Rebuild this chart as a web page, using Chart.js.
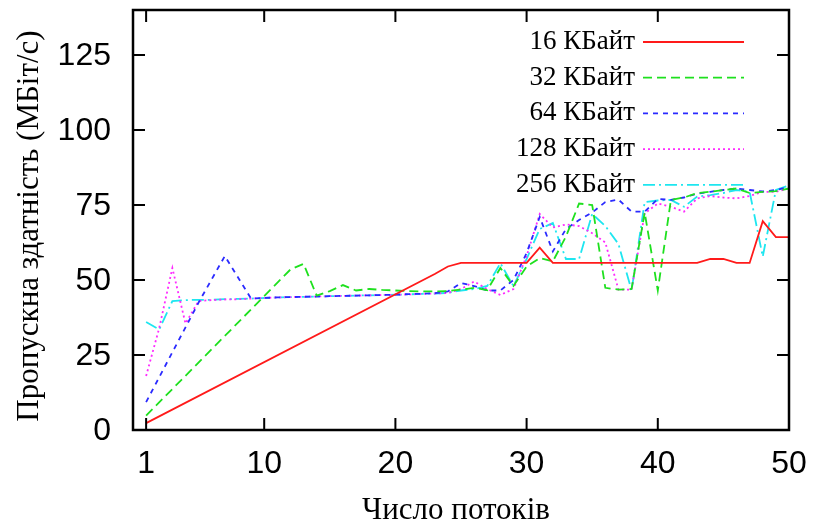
<!DOCTYPE html>
<html>
<head>
<meta charset="utf-8">
<script src="https://cdn.jsdelivr.net/npm/chart.js@4.4.1/dist/chart.umd.min.js"></script>
<style>
  html, body { margin: 0; padding: 0; background: #fff; }
  canvas { display: block; }
</style>
</head>
<body>
<canvas id="chart" width="814" height="528"></canvas>
<script>
// Throughput vs. number of threads, per buffer size.
// null = no measured point there (gnuplot just drew a straight segment across).
const threads = [
   1,  2,  3,  4,  5,  6,  7,  8,  9, 10,
  11, 12, 13, 14, 15, 16, 17, 18, 19, 20,
  21, 22, 23, 24, 25, 26, 27, 28, 29, 30,
  31, 32, 33, 34, 35, 36, 37, 38, 39, 40,
  41, 42, 43, 44, 45, 46, 47, 48, 49, 50,
];

const kb16 = [
  2.3, null, null, null, null, null, null, null, null, null,
  null, null, null, null, null, null, null, null, null, null,
  null, null, 52.0, 54.5, 55.7, 55.7, 55.7, 55.7, 55.7, 55.7,
  60.8, 55.7, 55.7, 55.7, 55.7, 55.7, 55.7, 55.7, 55.7, 55.7,
  55.7, 55.7, 55.7, 57.0, 57.0, 55.7, 55.7, 69.6, 64.3, 64.3,
];

const kb32 = [
  4.8, null, null, null, null, null, null, null, null, null,
  null, 53.5, 55.4, 44.8, 46.3, 48.3, 46.5, 47.0, 46.7, 46.5,
  46.3, 46.2, 46.2, 46.3, 46.8, 47.4, 46.6, 54.0, 48.0, 54.5,
  57.3, 56.2, 64.5, 75.5, 75.0, 47.4, 46.8, 47.0, 72.5, 46.5,
  76.7, 77.5, 79.0, 79.4, 80.0, 80.5, 79.0, 79.4, 79.6, 80.5,
];

const kb64 = [
  9.3, null, null, null, 42.5, null, 58.0, null, 43.8, 44.0,
  44.2, 44.3, 44.4, 44.5, 44.6, 44.7, 44.8, 44.9, 45.0, 45.1,
  45.3, 45.4, 45.6, 46.2, 49.0, 48.0, 46.5, 46.5, 50.0, 59.0,
  71.0, 59.5, 67.0, 70.0, 72.5, 76.0, 76.8, 72.8, 72.8, 77.0,
  76.7, 77.5, 78.8, 79.4, 80.0, 80.5, 80.0, 79.5, 80.0, 81.0,
];

const kb128 = [
  18.0, 34.0, 54.0, 35.5, 43.0, 43.3, 43.5, 43.6, 43.8, 44.0,
  44.2, 44.3, 44.4, 44.5, 44.6, 44.7, 44.8, 44.9, 45.0, 45.1,
  45.2, 45.4, 45.5, 45.7, 47.0, 49.5, 47.0, 45.0, 47.0, 58.0,
  72.0, 67.5, 68.5, 68.0, 65.6, 62.5, 46.8, 46.8, 72.2, 75.5,
  74.4, 72.8, 77.2, 78.0, 77.5, 77.2, 78.0, 79.4, 79.4, 80.5,
];

const kb256 = [
  36.0, 33.5, 43.0, 43.3, 43.4, 43.4, 43.6, 43.7, 43.8, 44.0,
  44.2, 44.3, 44.4, 44.5, 44.6, 44.7, 44.8, 44.9, 45.0, 45.1,
  45.2, 45.4, 45.5, 45.7, 46.5, 47.0, 48.0, 55.6, 48.0, 57.0,
  67.0, 69.0, 57.0, 57.0, 72.0, 68.0, 62.0, 46.5, 76.0, 76.5,
  76.7, 74.4, 77.8, 78.3, 79.0, 80.0, 79.4, 57.8, 80.0, 81.5,
];

const seriesLabels = ['16 КБайт', '32 КБайт', '64 КБайт', '128 КБайт', '256 КБайт'];
const seriesValues = [kb16, kb32, kb64, kb128, kb256];
const xTicks = [1, 10, 20, 30, 40, 50];
const yTicks = [0, 25, 50, 75, 100, 125];

const STYLE = [
  { color: '#ff1a1a', dash: [] },
  { color: '#1ee01e', dash: [9, 5] },
  { color: '#2a2aff', dash: [5, 5] },
  { color: '#ff2aff', dash: [2, 3] },
  { color: '#1ee6f0', dash: [12, 4, 2, 4] },
];

const SERIF = '"Liberation Serif", "DejaVu Serif", serif';
const SANS = '"Liberation Sans", Arial, sans-serif';

const datasets = seriesValues.map((vals, i) => ({
  label: seriesLabels[i],
  data: threads
    .map((t, j) => ({ x: t, y: vals[j] }))
    .filter((p) => p.y !== null),
  borderColor: STYLE[i].color,
  borderDash: STYLE[i].dash,
  borderWidth: 1.8,
  pointRadius: 0,
  tension: 0,
  fill: false,
}));

// gnuplot-like frame: inward ticks mirrored on all four sides, key inside top-right
const gnuplotFrame = {
  id: 'gnuplotFrame',
  afterDraw(chart) {
    const { ctx, chartArea: a } = chart;
    const xs = chart.scales.x;
    const ys = chart.scales.y;
    const tick = 12;
    ctx.save();
    ctx.strokeStyle = '#000';
    ctx.lineWidth = 2.5;
    ctx.setLineDash([]);
    ctx.strokeRect(a.left, a.top, a.right - a.left, a.bottom - a.top);

    ctx.lineWidth = 2;
    ctx.beginPath();
    for (const v of xTicks) {
      const px = xs.getPixelForValue(v);
      ctx.moveTo(px, a.bottom); ctx.lineTo(px, a.bottom - tick);
      ctx.moveTo(px, a.top); ctx.lineTo(px, a.top + tick);
    }
    for (const v of yTicks) {
      const py = ys.getPixelForValue(v);
      ctx.moveTo(a.left, py); ctx.lineTo(a.left + tick, py);
      ctx.moveTo(a.right, py); ctx.lineTo(a.right - tick, py);
    }
    ctx.stroke();

    ctx.fillStyle = '#000';
    ctx.font = '32px ' + SANS;
    ctx.textAlign = 'right';
    ctx.textBaseline = 'middle';
    for (const v of yTicks) ctx.fillText(String(v), 111, ys.getPixelForValue(v) + 1);
    ctx.textAlign = 'center';
    for (const v of xTicks) ctx.fillText(String(v), xs.getPixelForValue(v), 464);

    ctx.font = '31px ' + SERIF;
    ctx.fillText('Число потоків', 456, 511);
    ctx.save();
    ctx.translate(30, 226);
    ctx.rotate(-Math.PI / 2);
    ctx.fillText('Пропускна здатність (МБіт/с)', 0, 0);
    ctx.restore();

    // key
    ctx.font = '27px ' + SERIF;
    chart.data.datasets.forEach((ds, i) => {
      const y = 42 + i * 35.7;
      ctx.textAlign = 'right';
      ctx.fillStyle = '#000';
      ctx.fillText(ds.label, 635, y);
      ctx.strokeStyle = ds.borderColor;
      ctx.lineWidth = 1.8;
      ctx.setLineDash(ds.borderDash);
      ctx.beginPath();
      ctx.moveTo(643, y);
      ctx.lineTo(744, y);
      ctx.stroke();
    });
    ctx.restore();
  },
};

new Chart(document.getElementById('chart'), {
  type: 'line',
  data: { datasets },
  options: {
    responsive: false,
    animation: false,
    devicePixelRatio: 1,
    layout: { padding: { left: 133, right: 25, top: 10, bottom: 98 } },
    plugins: { legend: { display: false }, tooltip: { enabled: false } },
    scales: {
      x: { type: 'linear', min: 0, max: 50, display: false },
      y: { type: 'linear', min: 0, max: 140, display: false },
    },
  },
  plugins: [gnuplotFrame],
});
</script>
</body>
</html>
